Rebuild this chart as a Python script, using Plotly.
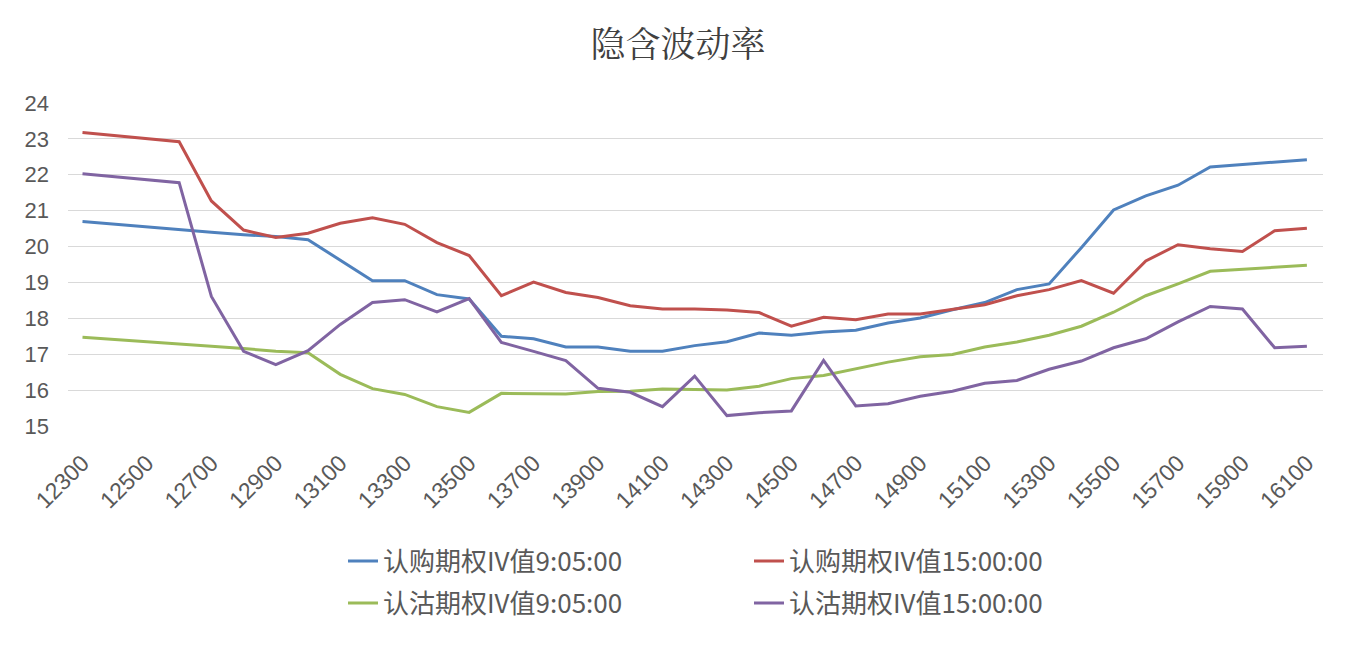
import plotly.graph_objects as go

strikes = list(range(12300, 16101, 100))

call_0905 = [20.70, None, None, 20.46, 20.40, 20.33, 20.28, 20.19, 19.63, 19.05,
             19.05, 18.66, 18.54, 17.50, 17.43, 17.20, 17.20, 17.08, 17.08, 17.24,
             17.35, 17.59, 17.53, 17.62, 17.67, 17.87, 18.01, 18.24, 18.44, 18.80,
             18.96, 19.97, 21.02, 21.41, 21.71, 22.22, None, None, 22.42]
call_1500 = [23.18, None, None, 22.92, 21.27, 20.46, 20.25, 20.37, 20.65, 20.80,
             20.62, 20.11, 19.75, 18.63, 19.01, 18.72, 18.58, 18.35, 18.26, 18.26,
             18.23, 18.16, 17.78, 18.03, 17.96, 18.12, 18.12, 18.24, 18.38, 18.63,
             18.80, 19.05, 18.70, 19.60, 20.05, 19.94, 19.86, 20.44, 20.51]
put_0905 = [17.47, None, None, 17.27, 17.22, 17.16, 17.08, 17.04, 16.44, 16.04,
            15.88, 15.54, 15.38, 15.91, 15.89, 15.89, 15.96, 15.97, 16.03, 16.02,
            16.00, 16.11, 16.32, 16.41, 16.59, 16.78, 16.93, 16.99, 17.20, 17.34,
            17.53, 17.78, 18.17, 18.63, 18.96, 19.31, None, None, 19.48]
put_1500 = [22.03, None, None, 21.78, 18.61, 17.08, 16.71, 17.10, 17.83, 18.44,
            18.52, 18.18, 18.55, 17.33, 17.08, 16.82, 16.05, 15.94, 15.54, 16.39,
            15.29, 15.37, 15.42, 16.83, 15.56, 15.62, 15.83, 15.97, 16.19, 16.27,
            16.58, 16.81, 17.18, 17.43, 17.90, 18.33, 18.26, 17.18, 17.22]

series_names = ["认购期权IV值9:05:00", "认购期权IV值15:00:00",
                "认沽期权IV值9:05:00", "认沽期权IV值15:00:00"]
series_values = [call_0905, call_1500, put_0905, put_1500]
colors = ["#4F81BD", "#C0504D", "#9BBB59", "#8064A2"]
legends = ["legend", "legend", "legend2", "legend2"]

tick_vals = list(range(12300, 16101, 200))
tick_text = [str(v) for v in tick_vals]

fig = go.Figure()
for name, vals, c, lg in zip(series_names, series_values, colors, legends):
    fig.add_trace(go.Scatter(x=strikes, y=vals, name=name, mode="lines",
                             connectgaps=True, legend=lg,
                             line=dict(color=c, width=3)))

# page body has an 8px margin, so the figure is drawn 8px in from the top-left
W, H = 1348, 640
OFF = 8
num_font = "Liberation Sans"
cjk_font = "Noto Sans CJK SC"
legend_common = dict(orientation="h", xref="container", yref="container",
                     xanchor="left", yanchor="middle",
                     entrywidth=361, entrywidthmode="pixels",
                     font=dict(family=cjk_font, size=26, color="#595959"),
                     bgcolor="rgba(0,0,0,0)")
fig.update_layout(
    width=W, height=H,
    margin=dict(l=68 - OFF, r=33, t=103 - OFF, b=222, autoexpand=False),
    paper_bgcolor="white", plot_bgcolor="white",
    title=dict(text="隐含波动率", x=(678 - OFF) / W, xanchor="center",
               y=1 - (45 - OFF) / H, yanchor="middle",
               xref="container", yref="container",
               font=dict(family="Noto Serif CJK SC, " + cjk_font, size=35, color="#404040")),
    xaxis=dict(range=[12255, 16150], tickmode="array", tickvals=tick_vals, ticktext=tick_text,
               tickangle=-45, showgrid=False, zeroline=False, showline=False, ticks="",
               ticklabelstandoff=18, automargin=False,
               tickfont=dict(family=num_font, size=23, color="#595959")),
    yaxis=dict(range=[15, 24], dtick=1, showgrid=True, gridcolor="#D9D9D9", gridwidth=1.3,
               zeroline=False, showline=False, ticks="", ticklabelstandoff=18, automargin=False,
               tickfont=dict(family=num_font, size=22, color="#595959")),
    legend=dict(x=(343 - OFF) / W, y=1 - (561 - OFF) / H, **legend_common),
    legend2=dict(x=(343 - OFF) / W, y=1 - (603 - OFF) / H, **legend_common),
)

fig.write_html("out.html")
